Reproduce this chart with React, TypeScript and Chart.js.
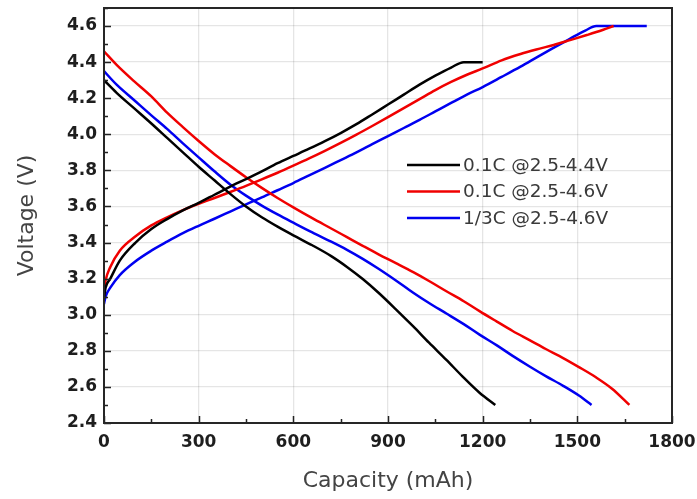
import React, { useEffect, useRef } from "react";
import { Chart, registerables } from "chart.js";

Chart.register(...registerables);

// ---- axes ----
const xTicks = [0, 300, 600, 900, 1200, 1500, 1800];
const yTicks = [2.4, 2.6, 2.8, 3.0, 3.2, 3.4, 3.6, 3.8, 4.0, 4.2, 4.4, 4.6];
const xMinorStep = 150;
const yMinorStep = 0.1;
const yMaxValue = 4.7;
const xTitle = "Capacity (mAh)";
const yTitle = "Voltage (V)";

// ---- series ----
const seriesLabels = ["0.1C @2.5-4.4V", "0.1C @2.5-4.6V", "1/3C @2.5-4.6V"];
const seriesColors = ["#000000", "#f00000", "#0000f0"];

// 0.1C @2.5-4.4V (black)
const blackChargeCap = [0, 5, 20, 50, 100, 150, 200, 250, 300, 350, 400, 450, 500, 550, 600, 650, 700, 750, 800, 850, 900, 950, 1000, 1050, 1100, 1140, 1200];
const blackChargeV = [3.09, 3.15, 3.20, 3.30, 3.40, 3.475, 3.53, 3.578, 3.62, 3.665, 3.71, 3.752, 3.795, 3.84, 3.88, 3.92, 3.962, 4.007, 4.056, 4.11, 4.165, 4.22, 4.275, 4.325, 4.37, 4.40, 4.40];
const blackDischargeCap = [0, 40, 95, 150, 200, 250, 300, 350, 400, 450, 500, 550, 600, 660, 720, 770, 820, 870, 925, 980, 1030, 1085, 1135, 1190, 1240];
const blackDischargeV = [4.30, 4.23, 4.145, 4.06, 3.98, 3.90, 3.82, 3.745, 3.67, 3.60, 3.54, 3.488, 3.44, 3.385, 3.325, 3.265, 3.198, 3.122, 3.03, 2.935, 2.845, 2.75, 2.66, 2.568, 2.50];

// 0.1C @2.5-4.6V (red)
const redChargeCap = [0, 5, 20, 50, 100, 150, 200, 250, 300, 350, 400, 450, 500, 550, 600, 650, 700, 750, 800, 850, 900, 950, 1000, 1050, 1100, 1150, 1200, 1260, 1320, 1370, 1425, 1477, 1530, 1580, 1615];
const redChargeV = [3.13, 3.19, 3.265, 3.355, 3.435, 3.495, 3.54, 3.58, 3.615, 3.647, 3.68, 3.714, 3.75, 3.787, 3.826, 3.866, 3.908, 3.952, 3.998, 4.046, 4.095, 4.145, 4.195, 4.245, 4.29, 4.33, 4.365, 4.41, 4.445, 4.47, 4.495, 4.522, 4.55, 4.578, 4.60];
const redDischargeCap = [0, 40, 95, 150, 200, 250, 300, 350, 400, 450, 500, 550, 600, 660, 720, 770, 820, 870, 925, 980, 1030, 1085, 1140, 1190, 1245, 1295, 1350, 1400, 1455, 1505, 1560, 1610, 1665];
const redDischargeV = [4.46, 4.385, 4.295, 4.21, 4.12, 4.04, 3.963, 3.89, 3.825, 3.762, 3.703, 3.647, 3.595, 3.535, 3.478, 3.43, 3.382, 3.335, 3.286, 3.236, 3.187, 3.13, 3.075, 3.02, 2.962, 2.91, 2.858, 2.81, 2.76, 2.71, 2.652, 2.59, 2.50];

// 1/3C @2.5-4.6V (blue)
const blueChargeCap = [0, 5, 20, 50, 95, 150, 200, 250, 300, 350, 400, 450, 500, 550, 600, 650, 700, 750, 800, 850, 900, 950, 1000, 1050, 1100, 1150, 1200, 1260, 1320, 1370, 1420, 1475, 1525, 1560, 1720];
const blueChargeV = [3.06, 3.10, 3.15, 3.22, 3.29, 3.355, 3.405, 3.452, 3.493, 3.532, 3.572, 3.612, 3.65, 3.69, 3.73, 3.772, 3.814, 3.857, 3.9, 3.945, 3.99, 4.035, 4.08, 4.127, 4.174, 4.22, 4.262, 4.318, 4.375, 4.425, 4.475, 4.528, 4.575, 4.60, 4.60];
const blueDischargeCap = [0, 40, 95, 150, 200, 250, 300, 350, 400, 450, 500, 550, 600, 660, 720, 770, 820, 870, 925, 980, 1030, 1085, 1140, 1190, 1245, 1295, 1350, 1400, 1455, 1505, 1545];
const blueDischargeV = [4.35, 4.275, 4.19, 4.105, 4.03, 3.95, 3.872, 3.795, 3.722, 3.66, 3.605, 3.556, 3.51, 3.456, 3.405, 3.36, 3.31, 3.255, 3.19, 3.122, 3.065, 3.007, 2.948, 2.89, 2.83, 2.772, 2.712, 2.66, 2.606, 2.552, 2.50];

const curves = [
  { series: 0, cap: blackChargeCap, v: blackChargeV },
  { series: 0, cap: blackDischargeCap, v: blackDischargeV },
  { series: 1, cap: redChargeCap, v: redChargeV },
  { series: 1, cap: redDischargeCap, v: redDischargeV },
  { series: 2, cap: blueChargeCap, v: blueChargeV },
  { series: 2, cap: blueDischargeCap, v: blueDischargeV },
];

const FONT = "'DejaVu Sans', 'Liberation Sans', Arial, sans-serif";

const framePlugin = {
  id: "frameTicksLegend",
  afterDatasetsDraw(chart: any) {
    const { ctx, chartArea: a, scales } = chart;
    const x = scales.x;
    const y = scales.y;
    ctx.save();
    ctx.strokeStyle = "#222";
    ctx.lineWidth = 1.5;
    ctx.beginPath();
    const xMax = xTicks[xTicks.length - 1];
    for (let i = 0; i * xMinorStep <= xMax; i++) {
      const v = i * xMinorStep;
      const px = Math.round(x.getPixelForValue(v)) + 0.5;
      const len = i % 2 === 0 ? 7 : 4;
      ctx.moveTo(px, a.bottom);
      ctx.lineTo(px, a.bottom - len);
    }
    const yMin = yTicks[0];
    for (let i = 0; yMin + i * yMinorStep <= y.max + 1e-9; i++) {
      const v = yMin + i * yMinorStep;
      const py = Math.round(y.getPixelForValue(v)) + 0.5;
      const len = i % 2 === 0 ? 7 : 4;
      ctx.moveTo(a.left, py);
      ctx.lineTo(a.left + len, py);
    }
    ctx.stroke();

    ctx.lineWidth = 2;
    ctx.strokeStyle = "#262626";
    ctx.strokeRect(a.left, a.top, a.right - a.left, a.bottom - a.top);

    // legend inside plot area
    const lx0 = a.left + 303;
    const lx1 = a.left + 356;
    const tx = a.left + 359;
    const rowY = [a.top + 158, a.top + 184.5, a.top + 211];
    ctx.font = `18.5px ${FONT}`;
    ctx.textBaseline = "middle";
    ctx.textAlign = "left";
    seriesLabels.forEach((label, i) => {
      ctx.strokeStyle = seriesColors[i];
      ctx.lineWidth = 2.5;
      ctx.beginPath();
      ctx.moveTo(lx0, rowY[i] - 1);
      ctx.lineTo(lx1, rowY[i] - 1);
      ctx.stroke();
      ctx.fillStyle = "#3a3a3a";
      ctx.fillText(label, tx, rowY[i]);
    });
    ctx.restore();
  },
};

export default function App() {
  const ref = useRef<HTMLCanvasElement | null>(null);

  useEffect(() => {
    if (!ref.current) return;
    const datasets = curves.map((c) => ({
      label: seriesLabels[c.series],
      data: c.cap.map((cap, i) => ({ x: cap, y: c.v[i] })),
      borderColor: seriesColors[c.series],
      backgroundColor: seriesColors[c.series],
      borderWidth: 2.5,
      pointRadius: 0,
      fill: false,
      cubicInterpolationMode: "monotone" as const,
    }));

    const chart = new Chart(ref.current, {
      type: "line",
      data: { datasets },
      options: {
        animation: false,
        responsive: false,
        maintainAspectRatio: false,
        layout: { padding: { top: 8, right: 25, bottom: 0, left: 0 } },
        plugins: { legend: { display: false }, tooltip: { enabled: false } },
        scales: {
          x: {
            type: "linear",
            min: xTicks[0],
            max: xTicks[xTicks.length - 1],
            afterBuildTicks: (s: any) => {
              s.ticks = xTicks.map((v) => ({ value: v }));
            },
            afterFit: (s: any) => {
              s.height = 76;
              s.paddingLeft = 0;
              s.paddingRight = 0;
            },
            ticks: {
              font: { family: FONT, size: 17, weight: "bold" },
              color: "#1e1e1e",
              padding: 9,
              maxRotation: 0,
              autoSkip: false,
              callback: (v: any) => String(v),
            },
            grid: { color: "rgba(0,0,0,0.1)", lineWidth: 1.3, drawTicks: false },
            border: { display: false },
            title: {
              display: true,
              text: xTitle,
              font: { family: FONT, size: 22 },
              color: "#444",
              padding: { top: 0, bottom: 5 },
            },
          },
          y: {
            type: "linear",
            min: yTicks[0],
            max: yMaxValue,
            afterBuildTicks: (s: any) => {
              s.ticks = yTicks.map((v) => ({ value: v }));
            },
            afterFit: (s: any) => {
              s.width = 104;
              s.paddingTop = 0;
              s.paddingBottom = 0;
            },
            ticks: {
              font: { family: FONT, size: 17, weight: "bold" },
              color: "#1e1e1e",
              padding: 7,
              autoSkip: false,
              callback: (v: any) => Number(v).toFixed(1),
            },
            grid: { color: "rgba(0,0,0,0.1)", lineWidth: 1.3, drawTicks: false },
            border: { display: false },
            title: {
              display: true,
              text: yTitle,
              font: { family: FONT, size: 22 },
              color: "#444",
              padding: { top: 14, bottom: 0 },
            },
          },
        },
      },
      plugins: [framePlugin],
    });
    return () => chart.destroy();
  }, []);

  return (
    <div style={{ position: "fixed", left: 0, top: 0, width: 697, height: 499, background: "#fff" }}>
      <canvas ref={ref} width={697} height={499} style={{ display: "block" }} />
    </div>
  );
}
